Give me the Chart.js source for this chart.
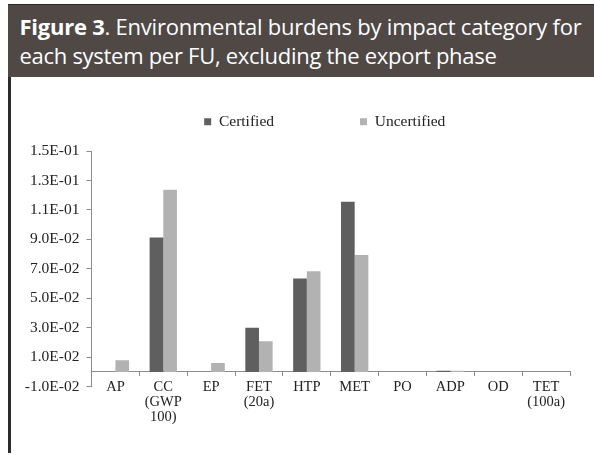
<!DOCTYPE html>
<html>
<head>
<meta charset="utf-8">
<script src="https://cdn.jsdelivr.net/npm/chart.js@4.4.1/dist/chart.umd.min.js"></script>
<style>
html,body{margin:0;padding:0;background:#fff;width:594px;height:455px;overflow:hidden;}
#header{position:absolute;left:8px;top:4px;width:586px;height:72px;background:#4f4845;border-top:1px solid #2e2a28;z-index:2;color:#fff;font-family:"Open Sans",sans-serif;font-size:22px;}
#title{position:absolute;left:11.5px;top:6.5px;line-height:29.7px;white-space:nowrap;}
#title span.l{display:block;}
#leftbar{position:absolute;left:8px;top:77px;width:3px;height:376px;background:#2b2b2b;z-index:2;}
#wrap{position:absolute;left:11px;top:28px;width:583px;height:425px;z-index:1;}
</style>
</head>
<body>
<div id="header"><div id="title"><span class="l" id="l1"><b>Figure 3</b>. Environmental burdens by impact category for</span><span class="l" id="l2">each system per FU, excluding the export phase</span></div></div>
<div id="leftbar"></div>
<div id="wrap"><canvas id="c"></canvas></div>
<script>
// ---- data ----
const categories = [["AP"], ["CC", "(GWP", "100)"], ["EP"], ["FET", "(20a)"], ["HTP"], ["MET"], ["PO"], ["ADP"], ["OD"], ["TET", "(100a)"]];
const seriesNames = ["Certified", "Uncertified"];
const certified   = [0.0000, 0.0913, 0.0000, 0.0299, 0.0634, 0.1156, 0.0000, 0.0008, 0.0000, 0.0000];
const uncertified = [0.0079, 0.1236, 0.0060, 0.0208, 0.0684, 0.0794, 0.0000, 0.0007, 0.0000, 0.0000];
const yTickValues = [-0.01, 0.01, 0.03, 0.05, 0.07, 0.09, 0.11, 0.13, 0.15];
const yTickLabels = ["-1.0E-02", "1.0E-02", "3.0E-02", "5.0E-02", "7.0E-02", "9.0E-02", "1.1E-01", "1.3E-01", "1.5E-01"];

// fit header lines to the reference widths
function fitLine(id, target) {
  const el = document.getElementById(id);
  const range = document.createRange(); range.selectNodeContents(el);
  const tw = range.getBoundingClientRect().width;
  const n = el.textContent.length;
  el.style.letterSpacing = ((target - tw) / n) + 'px';
}
fitLine('l1', 562);
fitLine('l2', 477);

const serif = "'Liberation Serif', 'Times New Roman', serif";
const axisColor = '#8c8c8c';

const legendSpacer = {
  id: 'legendSpacer',
  beforeLayout(chart) {
    const lg = chart.legend;
    if (lg && !lg._spaced) {
      const f = lg.fit;
      lg.fit = function () { f.call(this); this.height += 11.5; };
      lg._spaced = true;
    }
  },
  afterLayout(chart) {
    const lg = chart.legend;
    if (lg) { lg.left -= 6; lg.right -= 6; }
  }
};

new Chart(document.getElementById('c'), {
  type: 'bar',
  data: {
    labels: categories,
    datasets: [
      { label: seriesNames[0], data: certified, backgroundColor: '#5f5f5f', borderWidth: 0, categoryPercentage: 0.571, barPercentage: 1.0 },
      { label: seriesNames[1], data: uncertified, backgroundColor: '#b2b2b2', borderWidth: 0, categoryPercentage: 0.571, barPercentage: 1.0 }
    ]
  },
  options: {
    responsive: true,
    maintainAspectRatio: false,
    animation: false,
    layout: { padding: { left: 0, right: 24, top: 0, bottom: 66.4 } },
    plugins: {
      tooltip: { enabled: false },
      legend: {
        position: 'top',
        fullSize: false,
        labels: {
          boxWidth: 7, boxHeight: 7, padding: 86,
          color: '#222', font: { family: serif, size: 15.5 }
        }
      }
    },
    scales: {
      x: {
        type: 'category',
        position: { y: 0 },
        grid: { display: true, drawOnChartArea: false, drawTicks: true, tickLength: 4, color: axisColor, offset: true },
        border: { display: true, color: axisColor, width: 1 },
        ticks: { color: '#222', font: { family: serif, size: 14.5, lineHeight: 1.05 }, padding: 3.5, maxRotation: 0, autoSkip: false },
        afterFit(s) { s.height = 18; }
      },
      y: {
        min: -0.01, max: 0.15,
        afterBuildTicks(s) { s.ticks = yTickValues.map(v => ({ value: v })); },
        grid: { display: true, drawOnChartArea: false, drawTicks: true, tickLength: 5, color: axisColor },
        border: { display: true, color: axisColor, width: 1 },
        ticks: {
          color: '#222', font: { family: serif, size: 15.5 }, padding: 7,
          callback(v, i) { return yTickLabels[i]; }
        },
        afterFit(s) { s.width = 80.5; }
      }
    }
  },
  plugins: [legendSpacer]
});
</script>
</body>
</html>
